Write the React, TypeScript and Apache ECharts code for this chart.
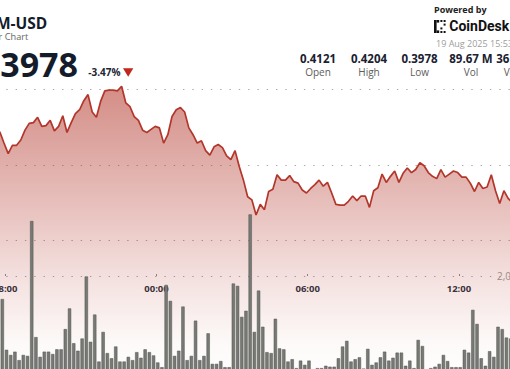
import React, { useEffect, useRef } from "react";
import * as echarts from "echarts";

// x positions are minutes after 18:00 (Aug 18); one point every 10 minutes
const PRICE_FIRST_MIN = -13;
const VOLUME_FIRST_MIN = -7;
const STEP_MIN = 10;
const X_MIN = -12.5;
const X_MAX = 1201.5;

const prices = [
  0.4144, 0.4129, 0.4115, 0.4126, 0.4126, 0.4133, 0.4146, 0.4155, 0.4156, 0.4163,
  0.4151, 0.4152, 0.4159, 0.4145, 0.4151, 0.4165, 0.4143, 0.4156, 0.4168, 0.4173,
  0.4185, 0.4193, 0.417, 0.4163, 0.4184, 0.4198, 0.4199, 0.4199, 0.4198, 0.4204,
  0.4182, 0.4177, 0.4164, 0.4159, 0.4146, 0.4143, 0.4147, 0.4151, 0.4149, 0.4129,
  0.414, 0.4164, 0.4173, 0.4176, 0.417, 0.4149, 0.414, 0.4129, 0.4132, 0.4119,
  0.4113, 0.4124, 0.4127, 0.4123, 0.4112, 0.4107, 0.4119, 0.4098, 0.408, 0.4058,
  0.4054, 0.4034, 0.4048, 0.4041, 0.4065, 0.4068, 0.4087, 0.408, 0.408, 0.4086,
  0.4078, 0.4076, 0.4067, 0.4063, 0.4069, 0.4074, 0.408, 0.4072, 0.4077, 0.4063,
  0.4048, 0.4047, 0.4047, 0.4052, 0.4059, 0.4053, 0.4059, 0.4059, 0.4044, 0.4066,
  0.407, 0.4088, 0.4077, 0.4085, 0.4092, 0.4077, 0.4089, 0.4096, 0.409, 0.4094,
  0.4103, 0.4099, 0.409, 0.4085, 0.4082, 0.4094, 0.4084, 0.4088, 0.4092, 0.409,
  0.4084, 0.4084, 0.4076, 0.4065, 0.4077, 0.4069, 0.4071, 0.4087, 0.4066, 0.4049,
  0.4066, 0.4056, 0.405,
];

// volume per 10 minutes, in millions
const volumes = [
  1.51, 0.43, 0.32, 0.39, 0.21, 0.32, 0.3, 3.17, 0.7, 0.28,
  0.39, 0.39, 0.34, 0.44, 0.44, 0.87, 1.31, 0.57, 0.41, 0.67,
  1.99, 0.6, 1.18, 0.18, 0.81, 0.36, 0.25, 0.5, 0.18, 0.18,
  0.28, 0.21, 0.38, 0.26, 0.44, 0.38, 0.31, 0.16, 0.06, 1.81,
  1.47, 0.3, 0.41, 1.35, 0.21, 0.3, 1.05, 0.21, 0.3, 0.78,
  0.13, 0.13, 0.19, 0.06, 0.06, 1.84, 1.79, 1.13, 1.26, 3.31,
  0.81, 1.69, 0.92, 0.38, 0.36, 1.09, 0.46, 0.44, 0.18, 0.23,
  0.04, 0.2, 0.11, 0.2, 0.01, 0.04, 0.04, 0.09, 0.07, 0.07,
  0.25, 0.5, 0.62, 0.18, 0.23, 0.27, 0.03, 0.45, 0.11, 0.16,
  0.27, 0.39, 0.2, 0.26, 0.37, 0.37, 0.09, 0.2, 0.04, 0.64,
  0.51, 0.01, 0.04, 0.07, 0.13, 0.32, 0.19, 0.06, 0.06, 0.06,
  0.43, 0.37, 1.28, 0.98, 0.25, 0.09, 0.4, 0.28, 0.92, 0.87,
  0.69, 0.67,
];

const timeTicks = [0, 360, 720, 1080];
const priceGridLevels = { min: 0.4, max: 0.42, step: 0.01 };
const volumeTicks = { min: 0, max: 4, step: 2 };

const statValues = ["0.4121", "0.4204", "0.3978", "89.67 M", "36.79 M"];
const statLabels = ["Open", "High", "Low", "Vol", "Vol ($)"];
const statCenters = [318, 369, 419.5, 471, 518];

const DOTS = { color: "#a8a8a8", width: 1, type: [1.4, 7.9], dashOffset: 2.6 };
const FONT = '"Open Sans", "Noto Sans", sans-serif';

function fmtTime(v: number) {
  const m = (((18 * 60 + Math.round(v)) % 1440) + 1440) % 1440;
  const hh = String(Math.floor(m / 60)).padStart(2, "0");
  const mm = String(m % 60).padStart(2, "0");
  return hh + ":" + mm;
}

export default function App() {
  const ref = useRef<HTMLDivElement>(null);
  useEffect(() => {
    if (!ref.current) return;
    const chart = echarts.init(ref.current, undefined, { renderer: "svg" });

    const statGraphics: any[] = [];
    statValues.forEach((v, i) => {
      statGraphics.push({
        type: "text",
        x: statCenters[i],
        y: 58,
        style: { text: v, font: `bold 11.5px ${FONT}`, fill: "#1a2130", textAlign: "center", textVerticalAlign: "middle" },
      });
      statGraphics.push({
        type: "text",
        x: statCenters[i],
        y: 71.5,
        style: { text: statLabels[i], font: `10px ${FONT}`, fill: "#5c5c5c", textAlign: "center", textVerticalAlign: "middle" },
      });
    });

    const logo: any[] = [
      { type: "rect", shape: { x: 434, y: 20, width: 2.6, height: 13 }, style: { fill: "#111" } },
      { type: "rect", shape: { x: 436.6, y: 20, width: 2.6, height: 2.6 }, style: { fill: "#111" } },
      { type: "rect", shape: { x: 436.6, y: 30.4, width: 2.6, height: 2.6 }, style: { fill: "#111" } },
      { type: "rect", shape: { x: 440.4, y: 20, width: 2, height: 2 }, style: { fill: "#111" } },
      { type: "rect", shape: { x: 443.6, y: 20, width: 2, height: 2 }, style: { fill: "#111" } },
      { type: "rect", shape: { x: 443.6, y: 23.6, width: 2, height: 2 }, style: { fill: "#111" } },
      { type: "rect", shape: { x: 440.4, y: 27.4, width: 2, height: 2 }, style: { fill: "#111" } },
      { type: "rect", shape: { x: 443.6, y: 31, width: 2, height: 2 }, style: { fill: "#111" } },
      { type: "rect", shape: { x: 440.4, y: 31, width: 2, height: 2 }, style: { fill: "#111" } },
    ];

    const option: any = {
      animation: false,
      backgroundColor: "#ffffff",
      grid: [
        { left: 0, right: 0, top: 13.6, bottom: -23.1, containLabel: false, outerBoundsMode: "none" },
        { left: 0, right: 0, top: 182, bottom: -1, containLabel: false, outerBoundsMode: "none" },
        { left: 0, right: 0, top: 89.3, bottom: 369 - 240.7, containLabel: false, outerBoundsMode: "none" },
      ],
      xAxis: [
        {
          gridIndex: 0,
          type: "value",
          min: X_MIN,
          max: X_MAX,
          position: "bottom",
          offset: -116.1,
          axisLine: { show: false },
          splitLine: { show: false },
          axisTick: { show: true, customValues: timeTicks, inside: true, length: 2, lineStyle: { color: "#8a8a8a" } },
          axisLabel: {
            customValues: timeTicks,
            formatter: (v: number) => fmtTime(v),
            margin: 7,
            color: "#2a3140",
            fontWeight: "bold",
            fontSize: 9.5,
            fontFamily: FONT,
          },
        },
        { gridIndex: 1, type: "value", min: X_MIN, max: X_MAX, show: false },
        { gridIndex: 2, type: "value", min: 0, max: 1, show: false },
      ],
      yAxis: [
        { gridIndex: 0, type: "value", min: 0.38, max: 0.43, show: false },
        {
          gridIndex: 1,
          type: "value",
          min: volumeTicks.min,
          max: volumeTicks.max,
          interval: volumeTicks.step,
          position: "right",
          axisLine: { show: false },
          axisTick: { show: false },
          axisLabel: {
            margin: -13,
            showMinLabel: false,
            showMaxLabel: false,
            color: "#999999",
            fontSize: 10,
            fontFamily: FONT,
            formatter: (v: number) => Math.round(v * 1e6).toLocaleString("en-US"),
          },
          splitLine: { show: true, showMinLine: false, showMaxLine: false, lineStyle: DOTS },
        },
        {
          gridIndex: 2,
          type: "value",
          min: priceGridLevels.min,
          max: priceGridLevels.max,
          interval: priceGridLevels.step,
          axisLine: { show: false },
          axisTick: { show: false },
          axisLabel: { show: false },
          splitLine: { show: true, lineStyle: DOTS },
        },
      ],
      series: [
        {
          type: "line",
          xAxisIndex: 0,
          yAxisIndex: 0,
          data: prices.map((p, i) => [PRICE_FIRST_MIN + STEP_MIN * i, p]),
          symbol: "none",
          lineStyle: { color: "#b3362b", width: 1.7 },
          areaStyle: {
            color: new echarts.graphic.LinearGradient(0, 0, 0, 1, [
              { offset: 0, color: "rgba(178,52,40,0.80)" },
              { offset: 0.38, color: "rgba(178,52,40,0.45)" },
              { offset: 0.63, color: "rgba(178,52,40,0.21)" },
              { offset: 0.84, color: "rgba(178,52,40,0.04)" },
              { offset: 1, color: "rgba(178,52,40,0)" },
            ]),
          },
          z: 2,
        },
        {
          type: "bar",
          xAxisIndex: 1,
          yAxisIndex: 1,
          data: volumes.map((v, i) => [VOLUME_FIRST_MIN + STEP_MIN * i, v]),
          barWidth: 3.3,
          itemStyle: { color: "#777a74", borderColor: "#50534e", borderWidth: 0.5 },
          z: 3,
        },
      ],
      graphic: [
        { type: "text", x: 47.3, y: 22.7, style: { text: "XLM-USD", font: `bold 15.5px ${FONT}`, fill: "#141c2b", textAlign: "right", textVerticalAlign: "middle" } },
        { type: "text", x: 28.3, y: 36.5, style: { text: "24 Hour Chart", font: `9.2px ${FONT}`, fill: "#666666", textAlign: "right", textVerticalAlign: "middle" } },
        { type: "text", x: 78, y: 63.5, style: { text: "0.3978", font: `bold 34px ${FONT}`, fill: "#141c2b", textAlign: "right", textVerticalAlign: "middle" } },
        { type: "text", x: 88.3, y: 72.3, style: { text: "-3.47%", font: `bold 10px ${FONT}`, fill: "#1e2533", textAlign: "left", textVerticalAlign: "middle" } },
        { type: "polygon", shape: { points: [[123, 68.3], [133.3, 68.3], [128.2, 76.7]] }, style: { fill: "#c0271d" } },
        { type: "text", x: 434, y: 9, style: { text: "Powered by", font: `bold 9px ${FONT}`, fill: "#222222", textAlign: "left", textVerticalAlign: "middle" } },
        ...logo,
        { type: "text", x: 449.3, y: 26.2, style: { text: "CoinDesk", font: `bold 14px Roboto, ${FONT}`, fill: "#111111", textAlign: "left", textVerticalAlign: "middle" } },
        { type: "text", x: 436, y: 43.5, style: { text: "19 Aug 2025 15:53", font: `9px ${FONT}`, fill: "#9d9d9d", textAlign: "left", textVerticalAlign: "middle" } },
        ...statGraphics,
      ],
    };
    chart.setOption(option);
    return () => chart.dispose();
  }, []);
  return <div ref={ref} style={{ position: "fixed", left: 0, top: 0, width: 510, height: 369 }} />;
}
